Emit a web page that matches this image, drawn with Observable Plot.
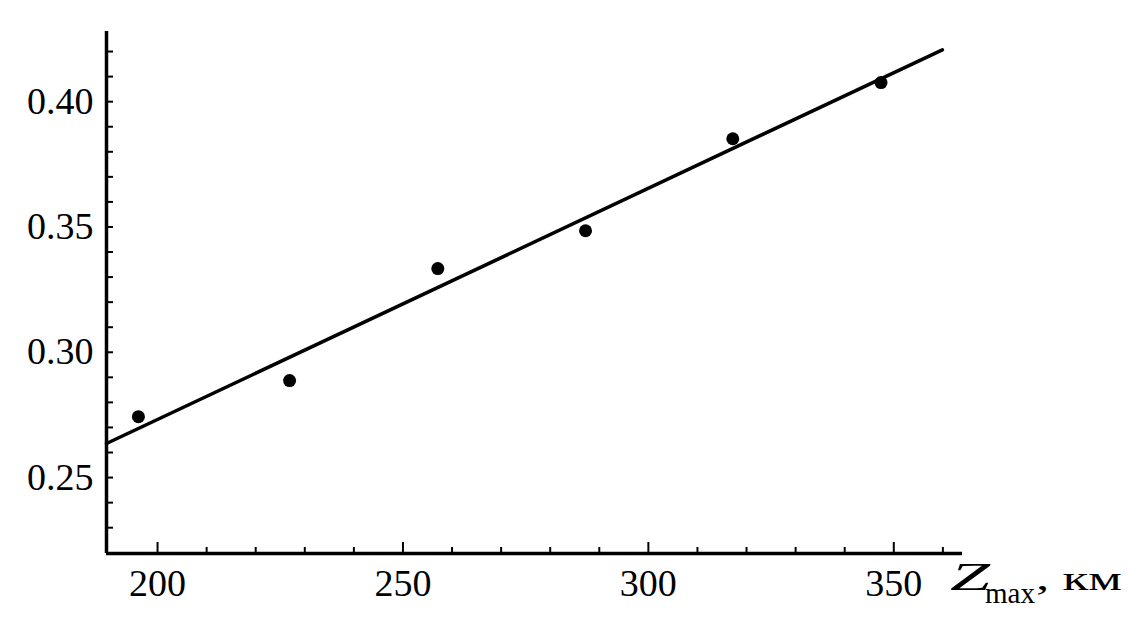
<!DOCTYPE html>
<html>
<head>
<meta charset="utf-8">
<script src="https://cdn.jsdelivr.net/npm/d3@7"></script>
<script src="https://cdn.jsdelivr.net/npm/@observablehq/plot@0.6"></script>
<style>
  html, body { margin: 0; padding: 0; background: #fff; }
  #chart { width: 1129px; height: 618px; }
</style>
</head>
<body>
<div id="chart"></div>
<script>
// Measured points
const zMax = [196.1, 226.9, 257.1, 287.2, 317.2, 347.4];
const ratio = [0.2743, 0.2887, 0.3334, 0.3485, 0.3852, 0.4076];

// Fitted straight line (end points)
const fitX = [189.6, 359.9];
const fitY = [0.2636, 0.4207];

// Axes
const xDomain = [189.6, 364];
const yDomain = [0.2197, 0.428];
const xMajor = [200, 250, 300, 350];
const xTickLabels = ["200", "250", "300", "350"];
const xMinor = [210, 220, 230, 240, 260, 270, 280, 290, 310, 320, 330, 340, 360];
const yMajor = [0.25, 0.30, 0.35, 0.40];
const yTickLabels = ["0.25", "0.30", "0.35", "0.40"];
const yMinor = [0.23, 0.24, 0.25, 0.26, 0.27, 0.28, 0.29, 0.30, 0.31, 0.32, 0.33, 0.34, 0.35, 0.36, 0.37, 0.38, 0.39, 0.40, 0.41, 0.42];

const points = zMax.map((x, i) => ({x, y: ratio[i]}));
const fit = fitX.map((x, i) => ({x, y: fitY[i]}));

const chart = Plot.plot({
  width: 1129,
  height: 618,
  marginLeft: 106,
  marginRight: 167,
  marginTop: 31,
  marginBottom: 65,
  style: {fontFamily: "'Liberation Serif', 'Times New Roman', serif", fontSize: "38px", background: "#fff", color: "#000"},
  x: {domain: xDomain},
  y: {domain: yDomain},
  marks: [
    Plot.axisX(xMajor, {tickSize: 0, tickPadding: 16, tickFormat: (d, i) => xTickLabels[i], fontSize: 38, label: null}),
    Plot.axisX(xMajor, {tickSize: -11, text: null, strokeWidth: 2, label: null}),
    Plot.axisX(xMinor, {tickSize: -6, text: null, strokeWidth: 2, label: null}),
    Plot.axisY(yMajor, {tickSize: 0, tickPadding: 13, tickFormat: (d, i) => yTickLabels[i], fontSize: 38, label: null}),
    Plot.axisY(yMinor, {tickSize: -7, text: null, strokeWidth: 2, label: null}),
    Plot.ruleX([xDomain[0]], {strokeWidth: 3.5}),
    Plot.ruleY([yDomain[0]], {strokeWidth: 3.5}),
    Plot.line(fit, {x: "x", y: "y", stroke: "#000", strokeWidth: 3.5}),
    Plot.dot(points, {x: "x", y: "y", r: 6.5, fill: "#000", stroke: "none"})
  ]
});

document.getElementById("chart").appendChild(chart);

// Axis label: Z_max, км
const svg = d3.select(chart);
const lab = svg.append("g")
  .attr("font-family", "'Liberation Serif', 'Times New Roman', serif")
  .attr("text-anchor", "start")
  .attr("fill", "#000");
lab.append("text").attr("x", 950).attr("y", 590).attr("font-size", 41).attr("font-style", "italic")
  .attr("textLength", 40).attr("lengthAdjust", "spacingAndGlyphs").text("Z");
lab.append("text").attr("x", 985).attr("y", 603).attr("font-size", 30)
  .attr("textLength", 50).attr("lengthAdjust", "spacingAndGlyphs").text("max");
lab.append("text").attr("x", 1036).attr("y", 590).attr("font-size", 34)
  .attr("textLength", 86).attr("lengthAdjust", "spacingAndGlyphs").text(", км");
</script>
</body>
</html>
